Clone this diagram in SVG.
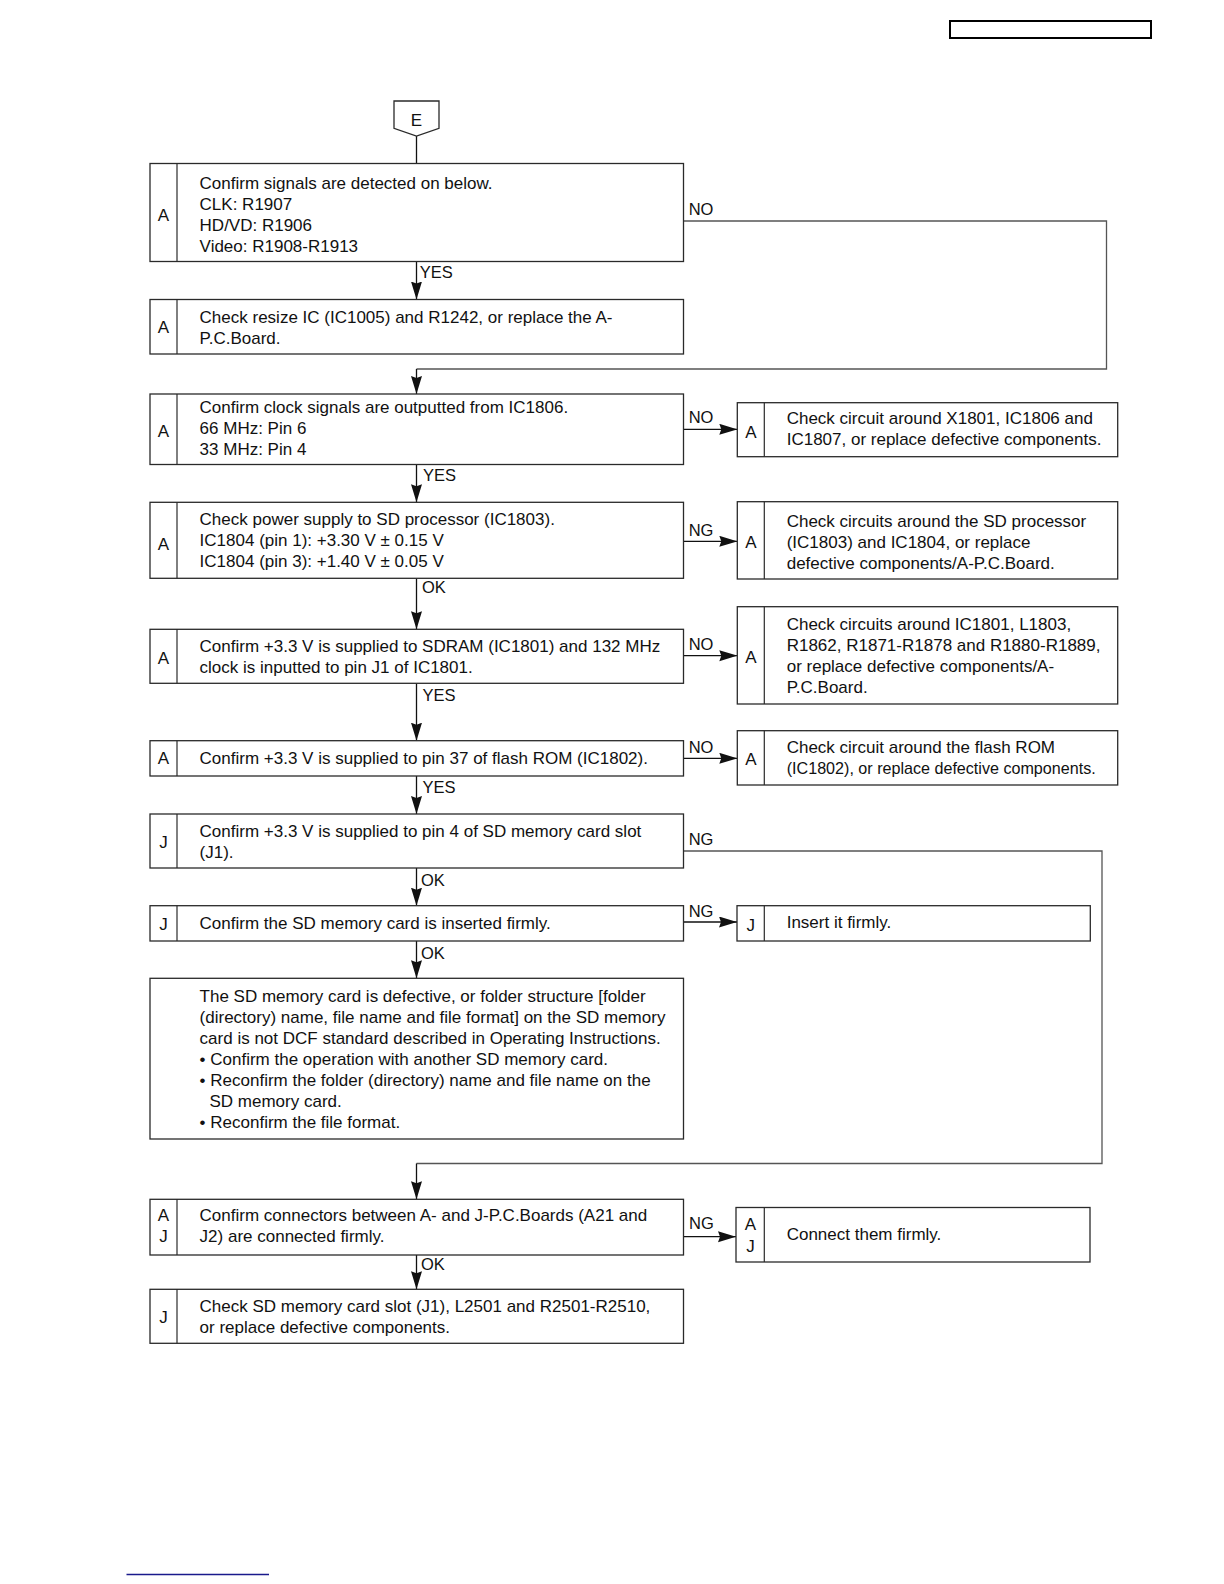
<svg xmlns="http://www.w3.org/2000/svg" width="1224" height="1584" viewBox="0 0 1224 1584">
<style>
text{font-family:"Liberation Sans",Arial,Helvetica,sans-serif;fill:#111}
.t{font-size:17px}
.l{font-size:17px;text-anchor:middle}
.lb{font-size:16.5px}
.box{fill:#fff;stroke:#2a2a2a;stroke-width:1.3}
.div{stroke:#2a2a2a;stroke-width:1.2}
.c{fill:none;stroke:#111;stroke-width:1.3}
.loop{fill:none;stroke:#555;stroke-width:1.3}
</style>
<defs>
<marker id="ah" markerUnits="userSpaceOnUse" markerWidth="18" markerHeight="12" refX="18" refY="5.5" orient="auto">
<path d="M0,0 L18,5.5 L0,11 L2,5.5 Z" fill="#111"/>
</marker>
</defs>
<rect width="1224" height="1584" fill="#fff"/>
<rect x="950" y="21" width="201" height="17" fill="none" stroke="#000" stroke-width="2"/>
<line x1="126.5" y1="1574.5" x2="269" y2="1574.5" stroke="#1a1a8c" stroke-width="1.3"/>

<g id="connectors">
<line class="c" x1="416.5" y1="136" x2="416.5" y2="163.5"/>
<line class="c" x1="416.5" y1="261.5" x2="416.5" y2="299.5" marker-end="url(#ah)"/>
<polyline class="loop" points="683.5,221 1106.5,221 1106.5,369 416.5,369"/>
<line class="c" x1="416.5" y1="369" x2="416.5" y2="394" marker-end="url(#ah)"/>
<line class="c" x1="416.5" y1="464.5" x2="416.5" y2="502.3" marker-end="url(#ah)"/>
<line class="c" x1="416.5" y1="578.3" x2="416.5" y2="629.3" marker-end="url(#ah)"/>
<line class="c" x1="416.5" y1="683.3" x2="416.5" y2="740.7" marker-end="url(#ah)"/>
<line class="c" x1="416.5" y1="776" x2="416.5" y2="814" marker-end="url(#ah)"/>
<line class="c" x1="416.5" y1="868" x2="416.5" y2="905.7" marker-end="url(#ah)"/>
<line class="c" x1="416.5" y1="941" x2="416.5" y2="978.3" marker-end="url(#ah)"/>
<polyline class="loop" points="683.5,851 1102,851 1102,1163.5 416.5,1163.5"/>
<line class="c" x1="416.5" y1="1163.5" x2="416.5" y2="1199.3" marker-end="url(#ah)"/>
<line class="c" x1="416.5" y1="1255" x2="416.5" y2="1289.3" marker-end="url(#ah)"/>
<line class="c" x1="683.5" y1="429.3" x2="737.3" y2="429.3" marker-end="url(#ah)"/>
<line class="c" x1="683.5" y1="541.3" x2="737.3" y2="541.3" marker-end="url(#ah)"/>
<line class="c" x1="683.5" y1="655.7" x2="737.3" y2="655.7" marker-end="url(#ah)"/>
<line class="c" x1="683.5" y1="758.3" x2="737.3" y2="758.3" marker-end="url(#ah)"/>
<line class="c" x1="683.5" y1="922" x2="737" y2="922" marker-end="url(#ah)"/>
<line class="c" x1="683.5" y1="1236.7" x2="736" y2="1236.7" marker-end="url(#ah)"/>
<text class="lb" x="688.7" y="215">NO</text>
<text class="lb" x="419.7" y="278">YES</text>
<text class="lb" x="688.7" y="423.3">NO</text>
<text class="lb" x="423" y="481">YES</text>
<text class="lb" x="688.7" y="536">NG</text>
<text class="lb" x="422" y="593.3">OK</text>
<text class="lb" x="688.7" y="650">NO</text>
<text class="lb" x="422.5" y="701">YES</text>
<text class="lb" x="688.7" y="752.7">NO</text>
<text class="lb" x="422.5" y="793.3">YES</text>
<text class="lb" x="688.7" y="845">NG</text>
<text class="lb" x="421" y="885.7">OK</text>
<text class="lb" x="688.7" y="916.7">NG</text>
<text class="lb" x="421" y="959">OK</text>
<text class="lb" x="689" y="1229.3">NG</text>
<text class="lb" x="421" y="1270">OK</text>
</g>

<g id="start-E">
<path class="box" d="M394,101 H439 V128.3 L416.5,136 L394,128.3 Z"/>
<text class="l" x="416.5" y="126">E</text>
</g>

<g id="box1">
<rect class="box" x="150" y="163.5" width="533.5" height="98"/>
<line class="div" x1="177" y1="163.5" x2="177" y2="261.5"/>
<text class="l" x="163.5" y="220.5">A</text>
<text class="t" x="199.6" y="189.3">Confirm signals are detected on below.</text>
<text class="t" x="199.6" y="210">CLK: R1907</text>
<text class="t" x="199.6" y="231">HD/VD: R1906</text>
<text class="t" x="199.6" y="251.7">Video: R1908-R1913</text>
</g>

<g id="box2">
<rect class="box" x="150" y="299.5" width="533.5" height="54.5"/>
<line class="div" x1="177" y1="299.5" x2="177" y2="354"/>
<text class="l" x="163.5" y="332.5">A</text>
<text class="t" x="199.6" y="323.3">Check resize IC (IC1005) and R1242, or replace the A-</text>
<text class="t" x="199.6" y="344.3">P.C.Board.</text>
</g>

<g id="box3">
<rect class="box" x="150" y="394" width="533.5" height="70.5"/>
<line class="div" x1="177" y1="394" x2="177" y2="464.5"/>
<text class="l" x="163.5" y="437.3">A</text>
<text class="t" x="199.6" y="413.3">Confirm clock signals are outputted from IC1806.</text>
<text class="t" x="199.6" y="434.3">66 MHz: Pin 6</text>
<text class="t" x="199.6" y="455.3">33 MHz: Pin 4</text>
</g>

<g id="box4">
<rect class="box" x="150" y="502.3" width="533.5" height="76"/>
<line class="div" x1="177" y1="502.3" x2="177" y2="578.3"/>
<text class="l" x="163.5" y="550">A</text>
<text class="t" x="199.6" y="525">Check power supply to SD processor (IC1803).</text>
<text class="t" x="199.6" y="546">IC1804 (pin 1): +3.30 V ± 0.15 V</text>
<text class="t" x="199.6" y="567">IC1804 (pin 3): +1.40 V ± 0.05 V</text>
</g>

<g id="box5">
<rect class="box" x="150" y="629.3" width="533.5" height="54"/>
<line class="div" x1="177" y1="629.3" x2="177" y2="683.3"/>
<text class="l" x="163.5" y="664">A</text>
<text class="t" x="199.6" y="651.7">Confirm +3.3 V is supplied to SDRAM (IC1801) and 132 MHz</text>
<text class="t" x="199.6" y="672.7">clock is inputted to pin J1 of IC1801.</text>
</g>

<g id="box6">
<rect class="box" x="150" y="740.7" width="533.5" height="35.3"/>
<line class="div" x1="177" y1="740.7" x2="177" y2="776"/>
<text class="l" x="163.5" y="764.3">A</text>
<text class="t" x="199.6" y="764.3">Confirm +3.3 V is supplied to pin 37 of flash ROM (IC1802).</text>
</g>

<g id="box7">
<rect class="box" x="150" y="814" width="533.5" height="54"/>
<line class="div" x1="177" y1="814" x2="177" y2="868"/>
<text class="l" x="163.5" y="848.3">J</text>
<text class="t" x="199.6" y="836.7">Confirm +3.3 V is supplied to pin 4 of SD memory card slot</text>
<text class="t" x="199.6" y="857.7">(J1).</text>
</g>

<g id="box8">
<rect class="box" x="150" y="905.7" width="533.5" height="35.3"/>
<line class="div" x1="177" y1="905.7" x2="177" y2="941"/>
<text class="l" x="163.5" y="930">J</text>
<text class="t" x="199.6" y="928.5">Confirm the SD memory card is inserted firmly.</text>
</g>

<g id="box9">
<rect class="box" x="150" y="978.3" width="533.5" height="160.7"/>
<text class="t" x="199.6" y="1001.7">The SD memory card is defective, or folder structure [folder</text>
<text class="t" x="199.6" y="1022.7">(directory) name, file name and file format] on the SD memory</text>
<text class="t" x="199.6" y="1043.5">card is not DCF standard described in Operating Instructions.</text>
<text class="t" x="199.6" y="1064.5">• Confirm the operation with another SD memory card.</text>
<text class="t" x="199.6" y="1085.7">• Reconfirm the folder (directory) name and file name on the</text>
<text class="t" x="209.5" y="1106.7">SD memory card.</text>
<text class="t" x="199.6" y="1127.7">• Reconfirm the file format.</text>
</g>

<g id="box10">
<rect class="box" x="150" y="1199.3" width="533.5" height="55.7"/>
<line class="div" x1="177" y1="1199.3" x2="177" y2="1255"/>
<text class="l" x="163.5" y="1220.5">A</text>
<text class="l" x="163.5" y="1241.7">J</text>
<text class="t" x="199.6" y="1221">Confirm connectors between A- and J-P.C.Boards (A21 and</text>
<text class="t" x="199.6" y="1241.7">J2) are connected firmly.</text>
</g>

<g id="box11">
<rect class="box" x="150" y="1289.3" width="533.5" height="54"/>
<line class="div" x1="177" y1="1289.3" x2="177" y2="1343.3"/>
<text class="l" x="163.5" y="1323.3">J</text>
<text class="t" x="199.6" y="1311.5">Check SD memory card slot (J1), L2501 and R2501-R2510,</text>
<text class="t" x="199.6" y="1332.5">or replace defective components.</text>
</g>

<g id="r1">
<rect class="box" x="737.3" y="402.7" width="380.4" height="54"/>
<line class="div" x1="764.3" y1="402.7" x2="764.3" y2="456.7"/>
<text class="l" x="750.8" y="438.3">A</text>
<text class="t" x="786.7" y="424.3">Check circuit around X1801, IC1806 and</text>
<text class="t" x="786.7" y="445.3">IC1807, or replace defective components.</text>
</g>

<g id="r2">
<rect class="box" x="737.3" y="501.7" width="380.4" height="77.3"/>
<line class="div" x1="764.3" y1="501.7" x2="764.3" y2="579"/>
<text class="l" x="750.8" y="548.3">A</text>
<text class="t" x="786.7" y="526.7">Check circuits around the SD processor</text>
<text class="t" x="786.7" y="547.7">(IC1803) and IC1804, or replace</text>
<text class="t" x="786.7" y="568.7">defective components/A-P.C.Board.</text>
</g>

<g id="r3">
<rect class="box" x="737.3" y="606.7" width="380.4" height="97.3"/>
<line class="div" x1="764.3" y1="606.7" x2="764.3" y2="704"/>
<text class="l" x="750.8" y="663.3">A</text>
<text class="t" x="786.7" y="630">Check circuits around IC1801, L1803,</text>
<text class="t" x="786.7" y="650.7">R1862, R1871-R1878 and R1880-R1889,</text>
<text class="t" x="786.7" y="671.7">or replace defective components/A-</text>
<text class="t" x="786.7" y="692.7">P.C.Board.</text>
</g>

<g id="r4">
<rect class="box" x="737.3" y="730.7" width="380.4" height="54.3"/>
<line class="div" x1="764.3" y1="730.7" x2="764.3" y2="785"/>
<text class="l" x="750.8" y="765">A</text>
<text class="t" x="786.7" y="752.7">Check circuit around the flash ROM</text>
<text class="t" x="786.7" y="774" textLength="309" lengthAdjust="spacingAndGlyphs">(IC1802), or replace defective components.</text>
</g>

<g id="r5">
<rect class="box" x="737" y="905.7" width="353.3" height="35.3"/>
<line class="div" x1="764.3" y1="905.7" x2="764.3" y2="941"/>
<text class="l" x="750.8" y="930.7">J</text>
<text class="t" x="786.7" y="928.3">Insert it firmly.</text>
</g>

<g id="r6">
<rect class="box" x="736" y="1207.5" width="354" height="54.5"/>
<line class="div" x1="764.3" y1="1207.5" x2="764.3" y2="1262"/>
<text class="l" x="750.5" y="1230">A</text>
<text class="l" x="750.5" y="1251.7">J</text>
<text class="t" x="786.7" y="1240">Connect them firmly.</text>
</g>
</svg>
